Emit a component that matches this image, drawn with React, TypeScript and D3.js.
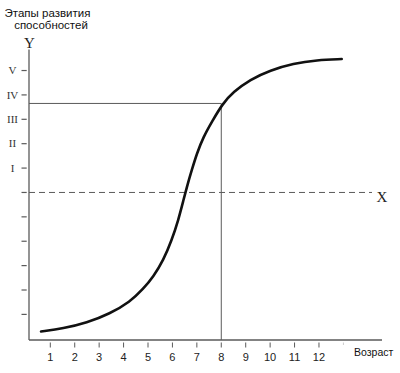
import React from "react";
import * as d3 from "d3";

const ages = [0.62, 1.53, 2.49, 3.44, 4.26, 4.81, 5.22, 5.63, 5.97, 6.24, 6.45, 6.63, 6.79, 7.0, 7.27, 7.61, 8.06, 8.49, 9.18, 10.0, 10.95, 11.91, 12.93];
const levels = [-5.7, -5.58, -5.35, -4.97, -4.49, -3.95, -3.45, -2.78, -1.96, -1.14, -0.32, 0.37, 0.91, 1.6, 2.28, 2.89, 3.65, 4.12, 4.63, 5.01, 5.29, 5.43, 5.47];
const xTicks = [1, 2, 3, 4, 5, 6, 7, 8, 9, 10, 11, 12];
const yTicks = [-5, -4, -3, -2, -1, 0, 1, 2, 3, 4, 5];
const stageLabels = ["I", "II", "III", "IV", "V"];
const stageValues = [1, 2, 3, 4, 5];
const markAge = 8;
const markLevel = 3.65;

export default function App() {
  const x = d3.scaleLinear().domain([0.128, 14.58]).range([29, 382]);
  const y = d3.scaleLinear().domain([-6.05, 5.85]).range([340, 49.8]);
  const pts = ages.map((a, i) => [a, levels[i]] as [number, number]);
  const line = d3
    .line<[number, number]>()
    .x((d) => x(d[0]))
    .y((d) => y(d[1]))
    .curve(d3.curveBasis);
  const axisColor = "#5a5a5a";
  return (
    <svg
      width={400}
      height={373}
      style={{ position: "absolute", left: 0, top: 0, background: "#fff" }}
    >
      <text x={47.5} y={17} fontFamily="Liberation Sans, Arial, sans-serif" fontSize={11.5} textAnchor="middle" fill="#111">
        Этапы развития
      </text>
      <text x={51} y={29} fontFamily="Liberation Sans, Arial, sans-serif" fontSize={11.5} textAnchor="middle" fill="#111">
        способностей
      </text>
      <text x={29.5} y={48} fontFamily="Liberation Serif, Times New Roman, serif" fontSize={15} textAnchor="middle" fill="#222">
        Y
      </text>
      {/* axes */}
      <line x1={x(0.128)} x2={x(0.128)} y1={49.5} y2={340} stroke={axisColor} strokeWidth={1.3} />
      <line x1={29} x2={382} y1={340} y2={340} stroke={axisColor} strokeWidth={1.3} />
      {/* y ticks */}
      {yTicks.map((t) => (
        <line key={"yt" + t} x1={21.5} x2={26.7} y1={y(t)} y2={y(t)} stroke={axisColor} strokeWidth={1.2} />
      ))}
      {stageValues.map((v, i) => (
        <text key={"sl" + v} x={12.5} y={y(v) + 3.8} fontFamily="Liberation Serif, Times New Roman, serif" fontSize={11} textAnchor="middle" fill="#333">
          {stageLabels[i]}
        </text>
      ))}
      {/* x ticks */}
      {xTicks.map((t) => (
        <g key={"xt" + t}>
          <line x1={x(t)} x2={x(t)} y1={342.5} y2={347.5} stroke={axisColor} strokeWidth={1} />
          <text x={x(t)} y={361} fontFamily="Liberation Sans, Arial, sans-serif" fontSize={11} textAnchor="middle" fill="#222">
            {t}
          </text>
        </g>
      ))}
      <line x1={x(13)} x2={x(13)} y1={342.5} y2={345} stroke="#ccc" strokeWidth={1} />
      <text x={354} y={356} fontFamily="Liberation Sans, Arial, sans-serif" fontSize={10.5} fill="#111">
        Возраст
      </text>
      {/* dashed X level */}
      <line x1={29} x2={372} y1={y(0)} y2={y(0)} stroke={axisColor} strokeWidth={1} strokeDasharray="6,4" />
      <text x={382} y={202} fontFamily="Liberation Serif, Times New Roman, serif" fontSize={15} textAnchor="middle" fill="#222">
        X
      </text>
      {/* guide lines */}
      <line x1={29} x2={x(markAge)} y1={y(markLevel)} y2={y(markLevel)} stroke={axisColor} strokeWidth={1} />
      <line x1={x(markAge)} x2={x(markAge)} y1={y(markLevel)} y2={340} stroke={axisColor} strokeWidth={1} />
      {/* curve */}
      <path d={line(pts) || ""} fill="none" stroke="#111" strokeWidth={2.6} strokeLinecap="round" />
    </svg>
  );
}
